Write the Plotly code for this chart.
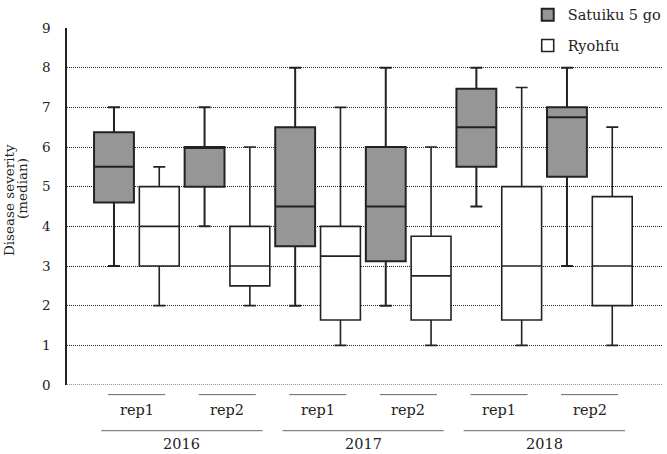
import plotly.graph_objects as go

# ---- data ----
years = ["2016", "2017", "2018"]
reps = ["rep1", "rep2", "rep1", "rep2", "rep1", "rep2"]

# Satuiku 5 go (grey boxes), one per year/rep
sat_min = [3, 4, 2, 2, 4.5, 3]
sat_q1 = [4.6, 5, 3.5, 3.12, 5.5, 5.25]
sat_med = [5.5, 6, 4.5, 4.5, 6.5, 6.75]
sat_q3 = [6.37, 6, 6.5, 6, 7.47, 7]
sat_max = [7, 7, 8, 8, 8, 8]

# Ryohfu (white boxes)
ryo_min = [2, 2, 1, 1, 1, 1]
ryo_q1 = [3, 2.5, 1.64, 1.64, 1.64, 2]
ryo_med = [4, 3, 3.25, 2.75, 3, 3]
ryo_q3 = [5, 4, 4, 3.75, 5, 4.75]
ryo_max = [5.5, 6, 7, 6, 7.5, 6.5]

sat_x = [2 * i for i in range(len(reps))]
ryo_x = [2 * i + 1 for i in range(len(reps))]

FONT = "DejaVu Serif"
TXT = "#222"

fig = go.Figure()
fig.add_trace(go.Box(
    name="Satuiku 5 go", x=sat_x, q1=sat_q1, median=sat_med, q3=sat_q3,
    lowerfence=sat_min, upperfence=sat_max, width=0.88, whiskerwidth=0.3,
    fillcolor="#969696", line=dict(color="#222", width=2),
    legendgroup="a", boxpoints=False,
))
fig.add_trace(go.Box(
    name="Ryohfu", x=ryo_x, q1=ryo_q1, median=ryo_med, q3=ryo_q3,
    lowerfence=ryo_min, upperfence=ryo_max, width=0.88, whiskerwidth=0.3,
    fillcolor="white", line=dict(color="#222", width=1.6),
    legendgroup="b", boxpoints=False,
))

# category labels under the plot (centred on each pair / each year)
rep_centers = [2 * i + 0.5 for i in range(len(reps))]
year_centers = [4 * i + 1.5 for i in range(len(years))]
shapes = [
    # dotted baseline at y = 0 (gridline at the range edge)
    dict(type="line", xref="paper", yref="y", x0=0, x1=1, y0=0, y1=0,
         line=dict(color="#222", width=1.2, dash="1px,1px"), layer="below"),
]
annotations = []
for c, lab in zip(rep_centers, reps):
    shapes.append(dict(type="line", xref="x", yref="paper", x0=c - 0.63, x1=c + 0.63,
                       y0=-0.027, y1=-0.027, line=dict(color="#666", width=1)))
    annotations.append(dict(x=c, y=-0.070, xref="x", yref="paper", text=lab,
                            showarrow=False, font=dict(family=FONT, size=14.5, color=TXT),
                            yanchor="middle"))
for c, lab in zip(year_centers, years):
    shapes.append(dict(type="line", xref="x", yref="paper", x0=c - 1.78, x1=c + 1.78,
                       y0=-0.128, y1=-0.128, line=dict(color="#666", width=1)))
    annotations.append(dict(x=c, y=-0.166, xref="x", yref="paper", text=lab,
                            showarrow=False, font=dict(family=FONT, size=14.5, color=TXT),
                            yanchor="middle"))

# y-axis title as two rotated lines
annotations.append(dict(x=-0.0973, y=0.518, xref="paper", yref="paper",
                        text="Disease severity", textangle=-90, showarrow=False,
                        font=dict(family=FONT, size=13.5, color=TXT),
                        xanchor="center", yanchor="middle"))
annotations.append(dict(x=-0.0755, y=0.549, xref="paper", yref="paper",
                        text="(median)", textangle=-90, showarrow=False,
                        font=dict(family=FONT, size=13.5, color=TXT),
                        xanchor="center", yanchor="middle"))

fig.update_layout(
    width=667, height=454,
    margin=dict(l=67, r=4, t=28, b=69, autoexpand=False),
    plot_bgcolor="white", paper_bgcolor="white",
    boxmode="overlay",
    font=dict(family=FONT, color=TXT),
    shapes=shapes, annotations=annotations,
    legend=dict(x=0.773, y=1.082, xanchor="left", yanchor="top",
                bgcolor="rgba(0,0,0,0)", font=dict(family=FONT, size=14.5, color=TXT),
                traceorder="grouped", tracegroupgap=9),
    xaxis=dict(range=[-1.037, 12.12], showgrid=False, zeroline=False,
               showline=False, showticklabels=False, ticks="", automargin=False),
    yaxis=dict(range=[0, 9], dtick=1, showgrid=True, griddash="1px,1px",
               gridcolor="#222", gridwidth=1.2, zeroline=False,
               showline=True, linecolor="#222", linewidth=1.5,
               ticks="", ticklabelstandoff=12, automargin=False,
               tickfont=dict(family=FONT, size=13.5, color=TXT)),
)

fig.write_html("out.html", config={"displayModeBar": False},
               post_script="document.body.style.margin='0';document.body.style.overflow='hidden';")
